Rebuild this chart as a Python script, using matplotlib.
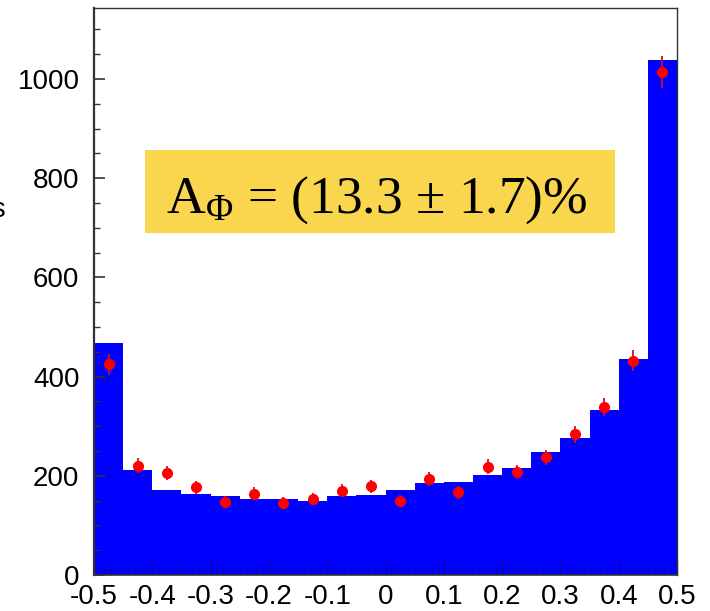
import numpy as np
import matplotlib
matplotlib.use("Agg")
import matplotlib.pyplot as plt
from matplotlib.patches import Rectangle
from matplotlib.ticker import MultipleLocator, FixedLocator

plt.rcParams["mathtext.fontset"] = "custom"
plt.rcParams["mathtext.rm"] = "Liberation Serif"
plt.rcParams["mathtext.it"] = "Liberation Serif:italic"
plt.rcParams["mathtext.bf"] = "Liberation Serif:bold"

# Binning of the asymmetry variable
bin_edges = np.linspace(-0.5, 0.5, 21)
bin_centers = 0.5 * (bin_edges[:-1] + bin_edges[1:])

# Simulated distribution (filled histogram)
mc_counts = [468, 211, 171, 164, 159, 153, 153, 149, 159, 161,
             171, 185, 188, 201, 216, 247, 277, 332, 435, 1038]

# Measured data with statistical errors
data_counts = [425, 220, 205, 177, 148, 164, 146, 153, 170, 179,
               150, 193, 167, 218, 207, 237, 284, 339, 432, 1014]
data_errors = [21, 15, 14, 13, 12, 13, 12, 12, 13, 13,
               12, 14, 13, 15, 14, 15, 17, 18, 21, 32]

x_tick_values = [-0.5, -0.4, -0.3, -0.2, -0.1, 0, 0.1, 0.2, 0.3, 0.4, 0.5]
x_tick_labels = ["-0.5", "-0.4", "-0.3", "-0.2", "-0.1", "0",
                 "0.1", "0.2", "0.3", "0.4", "0.5"]
y_tick_values = [0, 200, 400, 600, 800, 1000]
y_tick_labels = ["0", "200", "400", "600", "800", "1000"]

W, H = 710, 611
fig = plt.figure(figsize=(W / 100, H / 100), dpi=100)
ax = fig.add_axes([94 / W, 1 - 575 / H, (677 - 94) / W, (575 - 8) / H])

ax.stairs(mc_counts, bin_edges, fill=True, color="#0000ff", zorder=2)
ax.errorbar(bin_centers, data_counts, yerr=data_errors, fmt="o",
            color="#ff0000", ms=7, mec="#ff0000", ecolor="#c8102e",
            elinewidth=1.3, capsize=0, zorder=4)

ax.set_xlim(-0.5, 0.5)
ax.set_ylim(0, 1143)

# Axis styling
for side in ["left", "top", "right", "bottom"]:
    ax.spines[side].set_color("#333333")
ax.spines["left"].set_linewidth(1.6)
ax.spines["bottom"].set_linewidth(1.2)
ax.spines["top"].set_linewidth(1.0)
ax.spines["right"].set_linewidth(1.0)
for s in ax.spines.values():
    s.set_zorder(5)

tick_font = dict(family="Liberation Sans", size=20)
ax.yaxis.set_major_locator(FixedLocator(y_tick_values))
ax.set_yticklabels(y_tick_labels, **tick_font)
ax.yaxis.set_minor_locator(MultipleLocator(50))
ax.xaxis.set_major_locator(FixedLocator(x_tick_values))
ax.set_xticklabels(x_tick_labels, **tick_font)
ax.xaxis.set_minor_locator(MultipleLocator(0.01))

ax.tick_params(axis="y", which="major", direction="in", length=8, width=1.2,
               color="#333333", pad=10.5, left=True, right=False)
ax.tick_params(axis="y", which="minor", direction="in", length=4, width=1.0,
               color="#333333", left=True, right=False)
ax.tick_params(axis="x", which="major", direction="in", length=11, width=1.0,
               color="#10105a", pad=6.5, top=False)
ax.tick_params(axis="x", which="minor", direction="in", length=6, width=0.9,
               color="#10106a", top=False)
ax.set_axisbelow(False)
for t in ax.xaxis.get_ticklines(minor=True) + ax.xaxis.get_ticklines():
    t.set_alpha(0.6)
    t.set_zorder(3)

# Fit result label
ax.add_patch(Rectangle((145 / W, 1 - 233 / H), 470 / W, 83 / H,
                       transform=fig.transFigure, facecolor="#f9d64e",
                       edgecolor="none", zorder=6, clip_on=False))
fig.text(166 / W, 1 - 213 / H,
         r"A$_{\mathrm{Φ}}$ = (13.3 ± 1.7)%",
         family="Liberation Serif", size=38.5, color="black",
         ha="left", va="baseline", zorder=7)

# Vertical axis title
fig.text(6 / W, 1 - 217 / H, "Events", family="Liberation Sans", size=20,
         ha="right", va="baseline")

fig.savefig("out.png", dpi=100)
